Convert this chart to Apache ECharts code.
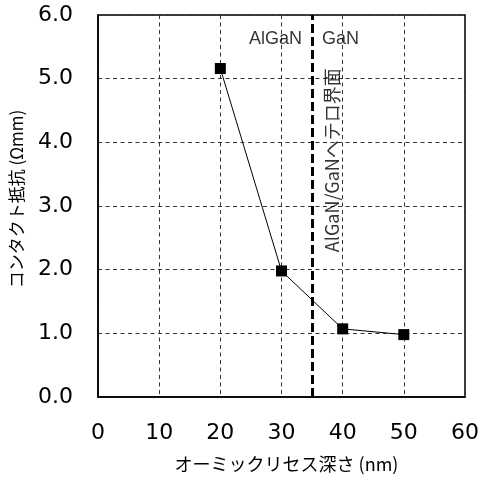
<!DOCTYPE html>
<html><head><meta charset="utf-8">
<script src="https://cdn.jsdelivr.net/npm/echarts@6/dist/echarts.min.js"></script>
<style>html,body{margin:0;padding:0;background:#fff}#c{width:482px;height:479px}</style>
</head><body><div id="c"></div>
<script>
const depths = [20, 30, 40, 50];
const resistance = [5.16, 1.98, 1.07, 0.98];
const xTicks = [0, 10, 20, 30, 40, 50, 60];
const yTicks = [0, 1, 2, 3, 4, 5, 6];
const interfaceX = 35;
const xName = 'オーミックリセス深さ (nm)';
const yName = 'コンタクト抵抗 (Ωmm)';
const leftLabel = 'AlGaN';
const rightLabel = 'GaN';
const interfaceLabel = 'AlGaN/GaNヘテロ界面';

const chart = echarts.init(document.getElementById('c'));
const tickFont = {fontFamily: 'DejaVu Sans', fontSize: 22, color: '#000'};
chart.setOption({
  animation: false,
  grid: {left: 98, right: 14, top: 15, bottom: 82, show: true, borderColor: '#000', borderWidth: 1.5},
  xAxis: {
    type: 'value', min: 0, max: 60, interval: 10,
    name: xName, nameLocation: 'middle', nameGap: 58,
    nameTextStyle: {fontFamily: 'Noto Sans CJK JP', fontSize: 18, color: '#000', padding: [0, 0, 0, 10]},
    axisLine: {lineStyle: {color: '#000', width: 1.5}},
    axisTick: {show: false},
    axisLabel: Object.assign({margin: 25, formatter: v => xTicks.includes(v) ? String(v) : ''}, tickFont),
    splitLine: {show: true, lineStyle: {color: '#333', type: [4, 3.5], width: 1}}
  },
  yAxis: {
    type: 'value', min: 0, max: 6, interval: 1,
    name: yName, nameLocation: 'middle', nameGap: 73,
    nameTextStyle: {fontFamily: 'Noto Sans CJK JP', fontSize: 17, color: '#000', padding: [0, 0, 0, 14]},
    axisLine: {lineStyle: {color: '#000', width: 1.5}},
    axisTick: {show: false},
    axisLabel: Object.assign({margin: 25, formatter: v => yTicks.includes(v) ? v.toFixed(1) : ''}, tickFont),
    splitLine: {show: true, lineStyle: {color: '#333', type: [4, 3.5], width: 1}}
  },
  series: [
    {
      type: 'line', data: depths.map((d, i) => [d, resistance[i]]),
      symbol: 'rect', symbolSize: 11,
      itemStyle: {color: '#000'}, lineStyle: {color: '#000', width: 1},
      markLine: {
        silent: true, symbol: 'none', label: {show: false},
        lineStyle: {color: '#000', width: 3, type: [9, 4]},
        data: [{xAxis: interfaceX}]
      },
      z: 5
    },
    {
      type: 'scatter', symbolSize: 0, silent: true,
      data: [
        {value: [interfaceX, 5.63], label: {show: true, position: 'left', distance: 10, formatter: leftLabel}},
        {value: [interfaceX, 5.63], label: {show: true, position: 'right', distance: 10, formatter: rightLabel}},
        {value: [38.3, 3.72], label: {show: true, position: 'inside', rotate: 90, formatter: interfaceLabel, fontSize: 18, fontFamily: 'Noto Sans CJK JP'}}
      ],
      label: {color: '#000', fontFamily: 'Liberation Sans', fontSize: 18}
    }
  ]
});
</script></body></html>
